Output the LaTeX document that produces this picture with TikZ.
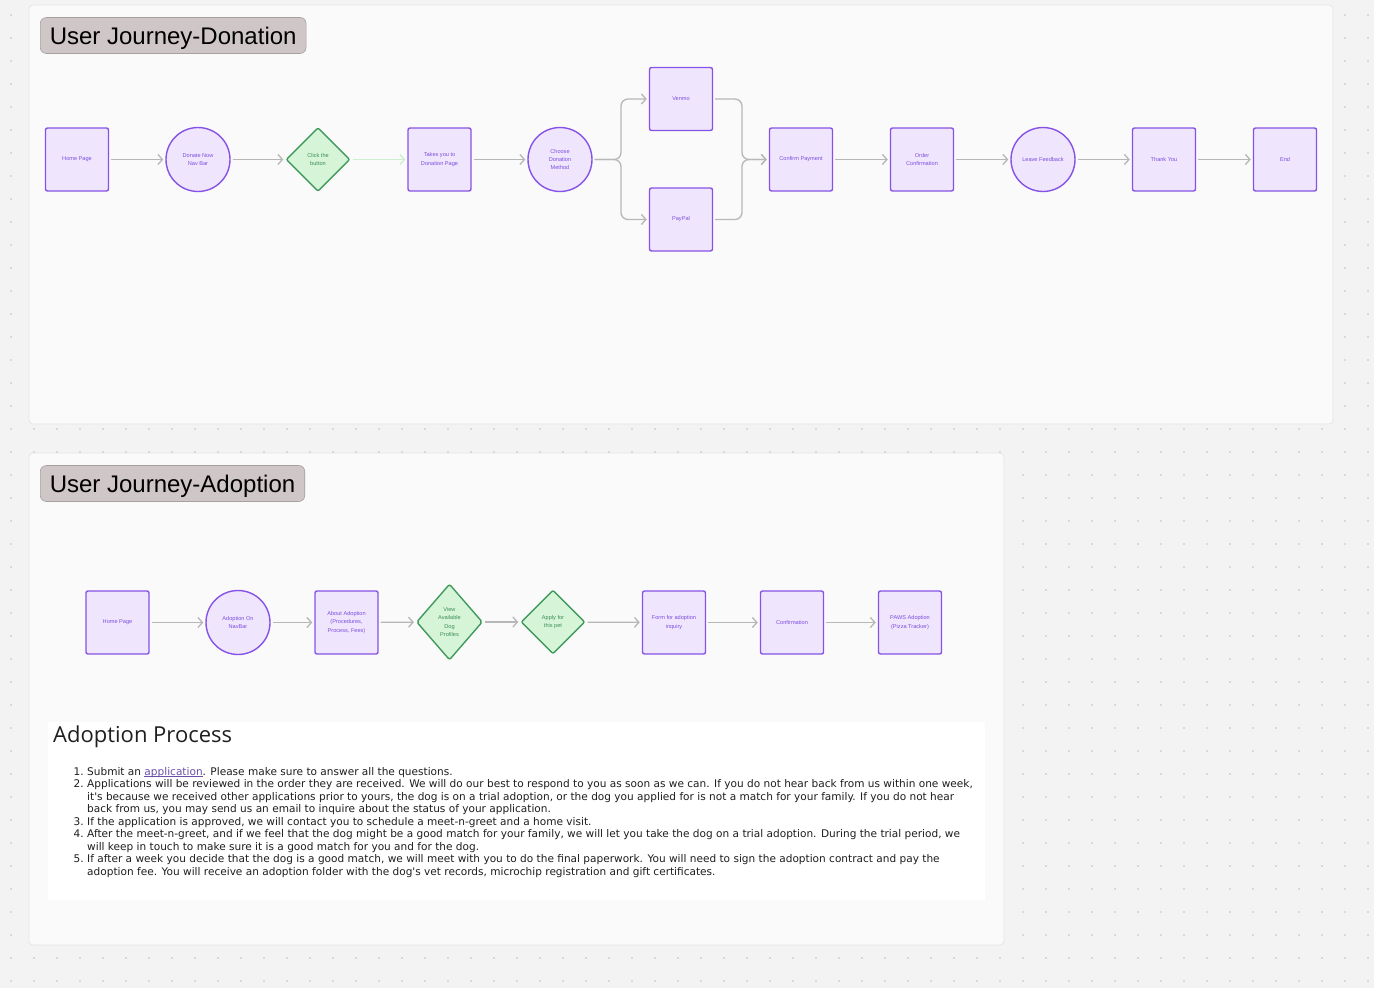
\documentclass[tikz,border=0pt]{standalone}
\usepackage{fontspec}
\setmainfont{Liberation Sans}
\newfontfamily\listfont{DejaVu Sans}
\newfontfamily\headfont{Open Sans}
\usetikzlibrary{arrows.meta,shapes.geometric,calc}
\newcommand\ulinkword[1]{\setbox0\hbox{#1}\rlap{\rule[-1.6pt]{\wd0}{0.55pt}}\box0}
\definecolor{bgc}{HTML}{F3F3F3}
\definecolor{dotc}{HTML}{BDBDBD}
\definecolor{panelc}{HTML}{FAFAFA}
\definecolor{panelb}{HTML}{E6E6E6}
\definecolor{titlef}{HTML}{CFC7C7}
\definecolor{titleb}{HTML}{A8A0A0}
\definecolor{pfill}{HTML}{EFE5FD}
\definecolor{pdraw}{HTML}{8753E6}
\definecolor{ptext}{HTML}{7D4EE0}
\definecolor{gfill}{HTML}{D6F4D8}
\definecolor{gdraw}{HTML}{3F9A5C}
\definecolor{gtext}{HTML}{3C8E55}
\definecolor{arr}{HTML}{B7B7B7}
\definecolor{garr}{HTML}{CDEFCF}
\definecolor{linkc}{HTML}{6B4FA8}
\definecolor{listc}{HTML}{1E1E1E}
\tikzset{
  nodetext/.style={font=\fontsize{5.6}{8.3}\selectfont, align=center, inner sep=0pt},
  sq/.style={nodetext, rectangle, minimum size=63pt, draw=pdraw, fill=pfill, line width=1.4pt, rounded corners=2pt, text=ptext},
  circ/.style={nodetext, circle, minimum size=64pt, draw=pdraw, fill=pfill, line width=1.4pt, text=ptext},
  dia/.style={nodetext, diamond, minimum width=64pt, minimum height=64pt, draw=gdraw, fill=gfill, line width=1.4pt, rounded corners=2pt, text=gtext},
  conn/.style={draw=arr, line width=1.3pt, shorten <=2pt, shorten >=2pt,
     -{Straight Barb[length=4.5pt,width=10pt,line width=1.3pt]}},
  gconn/.style={conn, draw=garr},
  titlebox/.style={draw=titleb, fill=titlef, line width=0.6pt, rounded corners=6pt, minimum height=36pt, inner xsep=9.5pt, text height=17.5pt, text depth=0pt, font=\fontsize{24}{28}\selectfont, text=black},
  panel/.style={draw=panelb, fill=panelc, line width=0.8pt, rounded corners=4pt},
  lline/.style={anchor=base west, inner sep=0pt, font=\listfont\fontsize{10.55}{12.5}\selectfont, text=listc},
  lnum/.style={anchor=base east, inner sep=0pt, font=\listfont\fontsize{10.55}{12.5}\selectfont, text=listc}
}
\begin{document}
\begin{tikzpicture}[x=1pt,y=-1pt]
\fill[bgc] (0,0) rectangle (1374,988);
\useasboundingbox (0,0) rectangle (1374,988);
\foreach \i in {0,...,59}{\foreach \j in {0,...,42}{\fill[dotc] ({11+23*\i},{15+23*\j}) circle (0.9pt);}}
% panels
\draw[panel] (29,5) rectangle (1333,424);
\draw[panel] (29,453) rectangle (1004,945);
% titles
\node[titlebox, anchor=west] (t1) at (40,35.5) {User Journey-Donation};
\node[titlebox, anchor=west] (t2) at (40,483.5) {User Journey-Adoption};
% donation row
\node[sq] (home1) at (77,159.5) {Home Page};
\node[circ] (donate) at (198,159.5) {Donate Now\\ Nav Bar};
\node[dia] (click) at (318,159.5) {Click the\\ button};
\node[sq] (takes) at (439.5,159.5) {Takes you to\\ Donation Page};
\node[circ] (choose) at (560,159.5) {Choose\\ Donation\\ Method};
\node[sq] (venmo) at (681,99) {Venmo};
\node[sq] (paypal) at (681,219.5) {PayPal};
\node[sq] (confirm) at (801,159.5) {Confirm Payment};
\node[sq] (order) at (922,159.5) {Order\\ Confirmation};
\node[circ] (leave) at (1043,159.5) {Leave Feedback};
\node[sq] (thanks) at (1164,159.5) {Thank You};
\node[sq] (end) at (1285,159.5) {End};
\coordinate (split) at (621,159.5);
\coordinate (merge) at (742,159.5);
\draw[conn] (home1) -- (donate);
\draw[conn] (donate) -- (click);
\draw[gconn] (click) -- (takes);
\draw[conn] (takes) -- (choose);
\draw[conn, rounded corners=7pt] (choose.east) -- (split) |- (venmo.west);
\draw[conn, rounded corners=7pt] (choose.east) -- (split) |- (paypal.west);
\draw[conn, rounded corners=7pt] (venmo.east) -| (merge) -- (confirm.west);
\draw[conn, rounded corners=7pt] (paypal.east) -| (merge) -- (confirm.west);
\draw[conn] (confirm) -- (order);
\draw[conn] (order) -- (leave);
\draw[conn] (leave) -- (thanks);
\draw[conn] (thanks) -- (end);
% adoption row
\node[sq] (home2) at (117.5,622.5) {Home Page};
\node[circ] (adnav) at (238,622.5) {Adoption On\\ NavBar};
\node[sq] (about) at (346.5,622.5) {About Adoption\\ (Procedures,\\ Process, Fees)};
\node[dia, minimum width=66pt, minimum height=76pt] (view) at (449.5,622) {View\\ Available\\ Dog\\ Profiles};
\node[dia] (apply) at (553,622) {Apply for\\ this pet};
\node[sq] (form) at (674,622.5) {Form for adoption\\ inquiry};
\node[sq] (conf2) at (792,622.5) {Confirmation};
\node[sq] (paws) at (910,622.5) {PAWS Adoption\\ (Pizza Tracker)};
\draw[conn] (home2) -- (adnav);
\draw[conn] (adnav) -- (about);
\draw[conn] (about) -- (view);
\draw[conn] (view) -- (apply);
\draw[conn] (apply) -- (form);
\draw[conn] (form) -- (conf2);
\draw[conn] (conf2) -- (paws);
% adoption process text
\node[fill=white, draw=none, minimum width=937pt, minimum height=178pt, anchor=north west, inner sep=0pt] (procbox) at (48,722) {};
\node[anchor=base west, inner sep=0pt, font=\headfont\fontsize{22}{26}\selectfont, text=black!88] (ptitle) at (53,742) {Adoption Process};
\node[lnum] (n1) at (84,775) {1.};
\node[lline] (l1) at (87,775) {Submit an {\color{linkc}\ulinkword{application}}. Please make sure to answer all the questions.};
\node[lnum] (n2) at (84,787.5) {2.};
\node[lline] (l2) at (87,787.5) {Applications will be reviewed in the order they are received. We will do our best to respond to you as soon as we can. If you do not hear back from us within one week,};
\node[lline] (l3) at (87,800) {it's because we received other applications prior to yours, the dog is on a trial adoption, or the dog you applied for is not a match for your family. If you do not hear};
\node[lline] (l4) at (87,812.5) {back from us, you may send us an email to inquire about the status of your application.};
\node[lnum] (n3) at (84,825) {3.};
\node[lline] (l5) at (87,825) {If the application is approved, we will contact you to schedule a meet-n-greet and a home visit.};
\node[lnum] (n4) at (84,837.5) {4.};
\node[lline] (l6) at (87,837.5) {After the meet-n-greet, and if we feel that the dog might be a good match for your family, we will let you take the dog on a trial adoption. During the trial period, we};
\node[lline] (l7) at (87,850) {will keep in touch to make sure it is a good match for you and for the dog.};
\node[lnum] (n5) at (84,862.5) {5.};
\node[lline] (l8) at (87,862.5) {If after a week you decide that the dog is a good match, we will meet with you to do the final paperwork. You will need to sign the adoption contract and pay the};
\node[lline] (l9) at (87,875) {adoption fee. You will receive an adoption folder with the dog's vet records, microchip registration and gift certificates.};
\end{tikzpicture}
\end{document}
